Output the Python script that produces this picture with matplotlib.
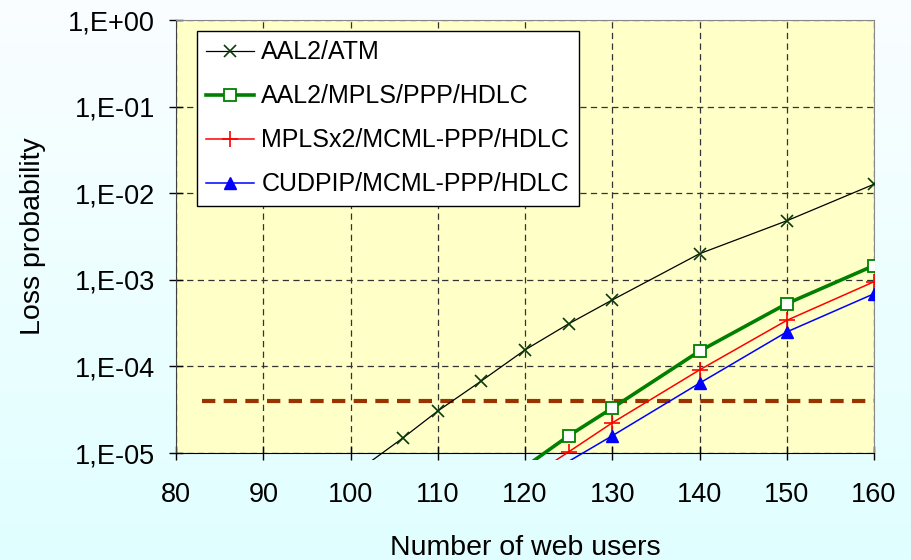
import numpy as np
import matplotlib
matplotlib.use('Agg')
import matplotlib.pyplot as plt
from matplotlib.lines import Line2D
from matplotlib.patches import Rectangle
from matplotlib.ticker import FixedLocator, FuncFormatter

plt.rcParams['font.family'] = ['Liberation Sans', 'DejaVu Sans']

# data
atm_x = [100, 106, 110, 115, 120, 125, 130, 140, 150, 160]
atm_y = [5.4e-6, 1.49e-5, 3.05e-5, 6.8e-5, 1.55e-4, 3.1e-4, 5.85e-4, 2.0e-3, 4.8e-3, 1.27e-2]

mpls_x = [120, 125, 130, 140, 150, 160]
mpls_y = [6.9e-6, 1.58e-5, 3.3e-5, 1.5e-4, 5.3e-4, 1.46e-3]

mcml_x = [120, 125, 130, 140, 150, 160]
mcml_y = [4.8e-6, 1.03e-5, 2.23e-5, 9.1e-5, 3.4e-4, 9.5e-4]

cud_x = [125, 130, 140, 150, 160]
cud_y = [8.0e-6, 1.58e-5, 6.4e-5, 2.5e-4, 6.9e-4]

limit_x = [83, 160]
limit_y = [4e-5, 4e-5]

labels = ['AAL2/ATM', 'AAL2/MPLS/PPP/HDLC', 'MPLSx2/MCML-PPP/HDLC', 'CUDPIP/MCML-PPP/HDLC']
xticks = [80, 90, 100, 110, 120, 130, 140, 150, 160]
yticks = [1e-5, 1e-4, 1e-3, 1e-2, 1e-1, 1e0]

fig = plt.figure(figsize=(9.11, 5.6), dpi=100)

# light blue gradient background
bg = fig.add_axes([0, 0, 1, 1], zorder=-10)
grad = np.linspace(0, 1, 256).reshape(-1, 1)
top = np.array([0.98, 0.995, 1.0])
bot = np.array([0.88, 1.0, 1.0])
img = top[None, None, :] * (1 - grad[:, :, None]) + bot[None, None, :] * grad[:, :, None]
bg.imshow(img, aspect='auto', extent=[0, 1, 0, 1])
bg.axis('off')

ax = fig.add_axes([176 / 911, 1 - 453 / 560, 698 / 911, 433 / 560])
ax.set_facecolor('#FFFFC8')
ax.set_yscale('log')
ax.set_xlim(80, 160)
ax.set_ylim(1e-5, 1)

ax.grid(True, which='major', color='#333333', linestyle=(0, (5, 3.5)), linewidth=0.9)
ax.set_axisbelow(True)

# lines run a few pixels past the bottom axis, markers stay inside
clip = Rectangle((0, -0.017), 1, 1.017, transform=ax.transAxes, visible=False)
ax.add_patch(clip)

series = [
    (atm_x, atm_y, dict(color='black', lw=0.9), dict(marker='x', ms=9, mec='#0A3A0A', mew=1.2)),
    (mpls_x, mpls_y, dict(color='#008000', lw=2.6), dict(marker='s', ms=8.5, mfc='white', mec='#008000', mew=1.3)),
    (mcml_x, mcml_y, dict(color='red', lw=1.1), dict(marker='+', ms=11, mec='red', mew=1.2)),
    (cud_x, cud_y, dict(color='blue', lw=1.1), dict(marker='^', ms=9, mfc='blue', mec='blue', mew=1)),
]

handles = []
for xs, ys, lstyle, mstyle in series:
    ln, = ax.plot(xs, ys, **lstyle, zorder=3)
    ln.set_clip_path(clip)
    ax.plot(xs, ys, linestyle='none', zorder=4, **mstyle)
    handles.append(Line2D([], [], **lstyle, **mstyle))

ax.plot(limit_x, limit_y, color='#993300', lw=3, linestyle=(0, (3.2, 2)), zorder=2)

ax.xaxis.set_major_locator(FixedLocator(xticks))
ax.yaxis.set_major_locator(FixedLocator(yticks))
ax.yaxis.set_minor_locator(FixedLocator([]))
ax.yaxis.set_major_formatter(FuncFormatter(lambda v, p: '1,E%+03d' % int(round(np.log10(v)))))
ax.tick_params(axis='both', which='major', direction='inout', length=10, width=1,
               labelsize=19.5, color='black')
ax.tick_params(axis='x', pad=16)
ax.tick_params(axis='y', pad=10)

for s in ['top', 'right']:
    ax.spines[s].set_color('#888888')
ax.spines['left'].set_color('#404040')
ax.spines['bottom'].set_color('black')

ax.set_ylabel('Loss probability', fontsize=20.5, labelpad=16)
ax.set_xlabel('Number of web users', fontsize=20.5, labelpad=19)

leg = ax.legend(handles, labels, loc='upper left', bbox_to_anchor=(0.03, 0.975),
                borderaxespad=0, fontsize=18, frameon=True, fancybox=False,
                edgecolor='black', framealpha=1, handlelength=1.9, handletextpad=0.3,
                labelspacing=0.8, borderpad=0.38)
leg.get_frame().set_linewidth(1)

fig.savefig('out.png', dpi=100)
